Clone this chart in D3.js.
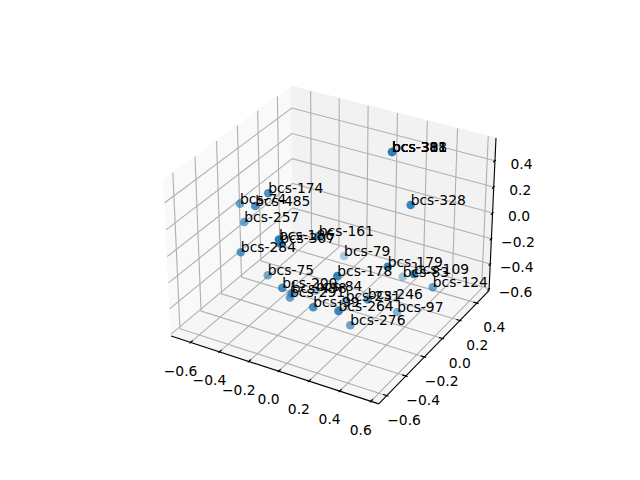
<!DOCTYPE html>
<html><head><meta charset="utf-8"><script src="https://d3js.org/d3.v7.min.js"></script>
<style>html,body{margin:0;padding:0;background:#fff}svg{display:block}text{font-family:"DejaVu Sans";font-size:13.89px;fill:#000}</style></head>
<body><svg id="c" width="640" height="480"></svg>
<script>
const labels=["bcs-174","bcs-74","bcs-485","bcs-257","bcs-284","bcs-186","bcs-307","bcs-161","bcs-79","bcs-75","bcs-178","bcs-200","bcs-498","bcs-84","bcs-291","bcs-99","bcs-264","bcs-276","bcs-231","bcs-246","bcs-179","bcs-83","bcs-109","bcs-124","bcs-97","bcs-328","bcs-311","bcs-388","bcs-381","bcs-301"];
const xs=[-0.279,-0.522,-0.324,-0.474,-0.369,-0.047,-0.039,0.066,-0.137,-0.317,0.248,-0.076,-0.059,-0.195,-0.099,0.103,0.302,0.207,0.043,0.325,0.478,0.234,0.615,0.565,0.357,0.503,0.061,0.061,0.061,0.061];
const ys=[-0.355,-0.287,-0.416,-0.316,-0.499,-0.592,-0.593,-0.377,0.195,-0.321,-0.472,-0.526,-0.461,-0.015,-0.420,-0.490,-0.543,-0.274,-0.067,-0.282,-0.327,0.248,-0.278,0.022,-0.014,-0.138,0.391,0.391,0.391,0.391];
const zs=[0.413,0.217,0.342,0.112,0.035,0.297,0.272,0.222,-0.371,-0.241,0.049,-0.115,-0.196,-0.528,-0.269,-0.224,-0.144,-0.477,-0.486,-0.230,0.100,-0.445,0.060,-0.260,-0.502,0.439,0.380,0.380,0.380,0.380];
const xTicks=[-0.6,-0.4,-0.2,0,0.2,0.4,0.6];
const yTicks=[-0.6,-0.4,-0.2,0,0.2,0.4];
const zTicks=[-0.6,-0.4,-0.2,0,0.2,0.4];
const xPane=[-0.736,0.65],yPane=[-0.682,0.546],zPane=[-0.615,0.569];

const svg=d3.select('#c');
const sx=d3.scaleLinear().domain(xPane).range([0,1]),
      sy=d3.scaleLinear().domain(yPane).range([0,1]),
      sz=d3.scaleLinear().domain(zPane).range([0,1]);
const dot=(a,b)=>a[0]*b[0]+a[1]*b[1]+a[2]*b[2];
const cross=(a,b)=>[a[1]*b[2]-a[2]*b[1],a[2]*b[0]-a[0]*b[2],a[0]*b[1]-a[1]*b[0]];
const unit=a=>{const n=Math.hypot(...a);return a.map(v=>v/n)};
const K=1.8294640721620434/Math.sqrt(41)*25/24;
const box=[4*K,4*K,3*K];
const el=30*Math.PI/180,az=-60*Math.PI/180,dist=10;
const R=box.map(v=>v/2);
const E=[R[0]+dist*Math.cos(el)*Math.cos(az),R[1]+dist*Math.cos(el)*Math.sin(az),R[2]+dist*Math.sin(el)];
const w=unit(E.map((v,i)=>v-R[i])),u=unit(cross([0,0,1],w)),v=cross(w,u);
const px=d3.scaleLinear().domain([-0.095,0.09]).range([143.2,512.8]);
const py=d3.scaleLinear().domain([-0.095,0.09]).range([427.2,57.6]);
function proj(n){
  const p=[n[0]*box[0]-E[0],n[1]*box[1]-E[1],n[2]*box[2]-E[2]];
  const ze=dot(w,p);
  return [px(dot(u,p)/-ze),py(dot(v,p)/-ze),ze];
}
const path=pts=>d3.line()(pts.map(n=>proj(n).slice(0,2)));

// panes
const panes=[
 [[[0,0,0],[0,1,0],[0,1,1],[0,0,1]],'#f9f9f9'],
 [[[0,1,0],[1,1,0],[1,1,1],[0,1,1]],'#f2f2f2'],
 [[[0,0,0],[1,0,0],[1,1,0],[0,1,0]],'#f6f6f6']];
panes.forEach(([c,col])=>svg.append('path').attr('d',path(c)+'Z').attr('fill',col).attr('stroke',col).attr('stroke-width',1.11));

// grid
const g=svg.append('g').attr('fill','none').attr('stroke','#b0b0b0').attr('stroke-width',1.11);
xTicks.forEach(t=>g.append('path').attr('d',path([[sx(t),0,0],[sx(t),1,0],[sx(t),1,1]])));
yTicks.forEach(t=>g.append('path').attr('d',path([[1,sy(t),0],[0,sy(t),0],[0,sy(t),1]])));
zTicks.forEach(t=>g.append('path').attr('d',path([[0,0,sz(t)],[0,1,sz(t)],[1,1,sz(t)]])));

// axis lines and ticks
const a=svg.append('g').attr('fill','none').attr('stroke','#000').attr('stroke-width',1.11);
a.append('path').attr('d',path([[0,0,0],[1,0,0]]));
a.append('path').attr('d',path([[1,0,0],[1,1,0]]));
a.append('path').attr('d',path([[1,1,0],[1,1,1]]));
const out=0.1/12,inn=0.2/12;
xTicks.forEach(t=>a.append('path').attr('d',path([[sx(t),-out,0],[sx(t),inn,0]])));
yTicks.forEach(t=>a.append('path').attr('d',path([[1+out,sy(t),0],[1-inn,sy(t),0]])));
zTicks.forEach(t=>a.append('path').attr('d',path([[1,1+out,sz(t)],[1,1-inn,sz(t)]])));

// tick labels
const fmt=d=>d3.format('.1f')(d).replace('-','\u2212');
function tl(t,n,dx,dy){const p=proj(n);svg.append('text').attr('x',p[0]+dx).attr('y',p[1]+dy+5).attr('text-anchor','middle').text(fmt(t));}
xTicks.forEach(t=>tl(t,[sx(t),0,0],-10,28.3));
yTicks.forEach(t=>tl(t,[1,sy(t),0],17.3,24.2));
zTicks.forEach(t=>tl(t,[1,1,sz(t)],26.5,3));

// points
const pts=labels.map((l,i)=>{const p=proj([sx(xs[i]),sy(ys[i]),sz(zs[i])]);return {l,x:p[0],y:p[1],d:p[2]}});
const alpha=d3.scaleLinear().domain(d3.extent(pts,d=>d.d)).range([0.35,0.95]);
svg.append('g').selectAll('circle').data(pts.slice().sort((a,b)=>a.d-b.d)).join('circle')
 .attr('cx',d=>d.x).attr('cy',d=>d.y).attr('r',4.3)
 .attr('fill','#1f77b4').attr('fill-opacity',d=>alpha(d.d));
svg.append('g').selectAll('text').data(pts).join('text').attr('x',d=>d.x).attr('y',d=>d.y).text(d=>d.l);
</script></body></html>
